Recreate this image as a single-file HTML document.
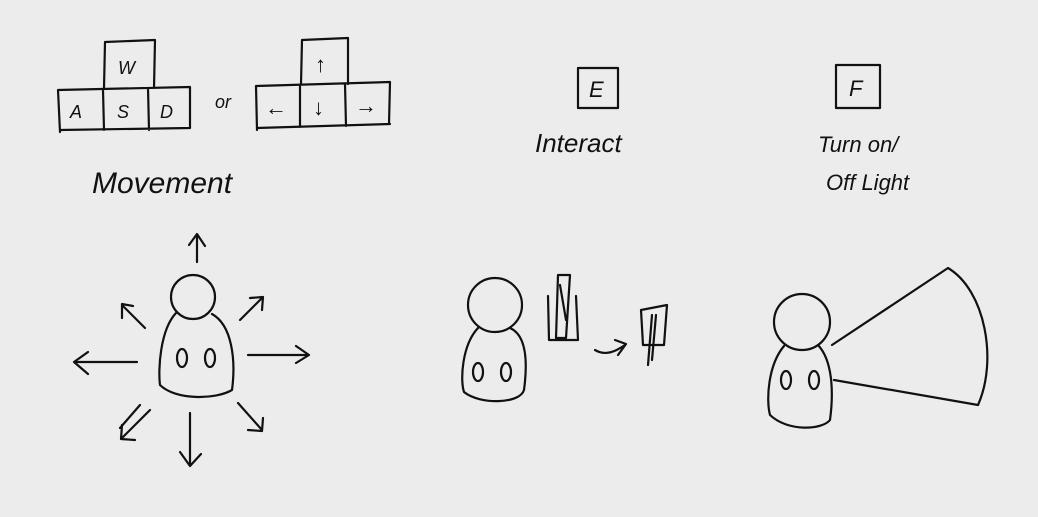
<!DOCTYPE html>
<html><head><meta charset="utf-8">
<style>
html,body{margin:0;padding:0;background:#ececec;}
svg{display:block}
text{font-family:"Liberation Sans",sans-serif;fill:#111;font-style:italic}
.s{fill:none;stroke:#111;stroke-width:2.2;stroke-linecap:round;stroke-linejoin:round}
</style></head>
<body>
<svg width="1038" height="517" viewBox="0 0 1038 517">
<rect width="1038" height="517" fill="#ececec"/>

<g>
<path class="s" d="M105 42 L155 40 L154 88 M105 42 L104 88 M58 90 L190 87 M60 130 L190 128 M58 90 L60 132 M103 90 L104 130 M148 88 L149 130 M190 87 L190 128"/>
<text x="118" y="74" font-size="18">W</text>
<text x="70" y="118" font-size="18">A</text>
<text x="117" y="118" font-size="18">S</text>
<text x="160" y="118" font-size="18">D</text>
</g>
<text x="215" y="108" font-size="18">or</text>

<g>
<path class="s" d="M302 40 L348 38 L348 84 M302 40 L301 84 M256 86 L390 82 M257 128 L390 124 M256 86 L257 130 M300 85 L300 127 M345 84 L346 126 M390 82 L389 124"/>
<text x="315" y="72" font-size="22">↑</text>
<text x="265" y="115" font-size="22">←</text>
<text x="313" y="115" font-size="22">↓</text>
<text x="355" y="113" font-size="22">→</text>
</g>
<text x="92" y="193" font-size="30">Movement</text>

<rect class="s" x="578" y="68" width="40" height="40"/>
<text x="589" y="97" font-size="22">E</text>
<text x="535" y="152" font-size="26">Interact</text>

<rect class="s" x="836" y="65" width="44" height="43"/>
<text x="849" y="96" font-size="22">F</text>
<text x="818" y="152" font-size="22">Turn on/</text>
<text x="826" y="190" font-size="22">Off Light</text>

<g>
<circle class="s" cx="193" cy="297" r="22"/>
<path class="s" d="M176 313 C160 330 158 370 160 385 C175 400 215 400 232 390 C236 360 232 325 212 314"/>
<ellipse class="s" cx="182" cy="358" rx="5" ry="9"/>
<ellipse class="s" cx="210" cy="358" rx="5" ry="9"/>
<path class="s" d="M197 262 L197 235 M189 245 L197 234 L205 246"/>
<path class="s" d="M137 362 L75 362 M88 352 L74 362 L88 374"/>
<path class="s" d="M248 355 L308 355 M296 346 L309 355 L296 363"/>
<path class="s" d="M190 413 L190 465 M180 452 L190 466 L201 454"/>
<path class="s" d="M145 328 L122 305 M122 318 L122 304 L133 306"/>
<path class="s" d="M240 320 L262 298 M250 298 L263 297 L262 310"/>
<path class="s" d="M150 410 L122 438 M122 425 L121 439 L135 440 M140 405 L120 428"/>
<path class="s" d="M238 403 L262 430 M248 430 L262 431 L263 418"/>
</g>

<g>
<circle class="s" cx="495" cy="305" r="27"/>
<path class="s" d="M478 328 C462 345 460 380 464 392 C480 405 520 404 524 390 C528 360 526 335 510 328"/>
<ellipse class="s" cx="478" cy="372" rx="5" ry="9"/>
<ellipse class="s" cx="506" cy="372" rx="5" ry="9"/>
<path class="s" d="M548 296 L549 340 L578 340 L576 296"/>
<path class="s" d="M558 275 L570 275 L566 338 L556 338 Z M560 285 L566 320"/>
<path class="s" d="M595 350 C605 356 615 352 625 345 M615 340 L626 344 L618 355"/>
<path class="s" d="M641 310 L667 305 L664 345 L643 345 Z M652 315 L648 365 M656 315 L652 360"/>
</g>

<g>
<circle class="s" cx="802" cy="322" r="28"/>
<path class="s" d="M784 346 C768 365 766 400 770 415 C788 432 822 430 830 420 C834 390 832 360 818 345"/>
<ellipse class="s" cx="786" cy="380" rx="5" ry="9"/>
<ellipse class="s" cx="814" cy="380" rx="5" ry="9"/>
<path class="s" d="M832 345 L948 268 C985 290 998 360 978 405 L834 380"/>
</g>
</svg>
</body></html>
